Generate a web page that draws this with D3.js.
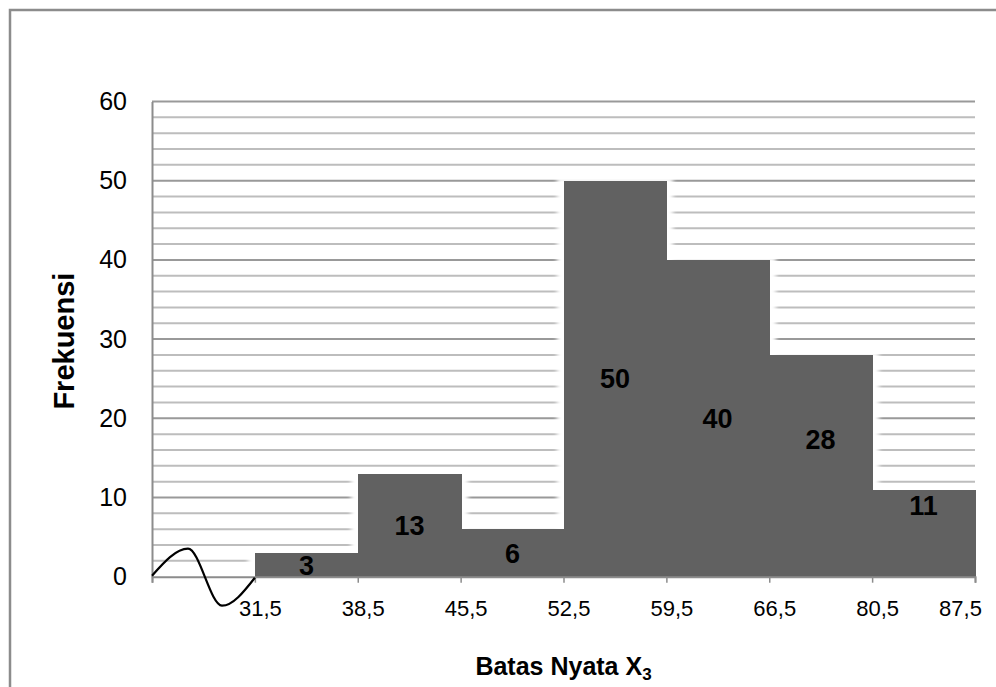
<!DOCTYPE html>
<html>
<head>
<meta charset="utf-8">
<script src="https://cdn.jsdelivr.net/npm/d3@7"></script>
<style>
  html, body { margin: 0; padding: 0; background: #fff; }
  svg { display: block; font-family: "Liberation Sans", Arial, sans-serif; }
</style>
</head>
<body>
<div id="chart"></div>
<script>
// ── Data ─────────────────────────────────────────────────────
var batasNyata = ["31,5", "38,5", "45,5", "52,5", "59,5", "66,5", "80,5", "87,5"];
var frekuensi = [3, 13, 6, 50, 40, 28, 11];
// height (in frequency units) where each value label sits
var labelLevel = [1.5, 6.5, 3, 25, 20, 17.3, 9];
var yTicks = [0, 10, 20, 30, 40, 50, 60];
var yTitle = "Frekuensi";
var xTitle = "Batas Nyata X";
var xTitleSub = "3";

// ── Layout ───────────────────────────────────────────────────
var W = 996, H = 687;
var plot = { left: 152, right: 975, top: 101.5, bottom: 576.7 };
var AXIS = "#8c8c8c";

var svg = d3.select("#chart").append("svg")
  .attr("width", W)
  .attr("height", H);

// outer frame (right and bottom edges fall outside the picture)
svg.append("rect")
  .attr("x", 10).attr("y", 10)
  .attr("width", W + 20).attr("height", H + 20)
  .attr("fill", "#fff")
  .attr("stroke", AXIS)
  .attr("stroke-width", 2.5);

// one empty slot before the first class (axis break), then one slot per class
var x = d3.scaleLinear()
  .domain([0, batasNyata.length])
  .range([plot.left, plot.right]);

var y = d3.scaleLinear()
  .domain([0, 60])
  .range([plot.bottom, plot.top]);

var defs = svg.append("defs");
defs.append("filter")
  .attr("id", "halo")
  .attr("x", "-20%").attr("y", "-20%")
  .attr("width", "140%").attr("height", "140%")
  .append("feGaussianBlur")
  .attr("stdDeviation", 2.2);

// ── Gridlines (every 2, darker every 10) ─────────────────────
var grid = svg.append("g").attr("class", "grid");
grid.selectAll("line")
  .data(d3.range(2, 61, 2))
  .join("line")
  .attr("x1", plot.left)
  .attr("x2", plot.right)
  .attr("y1", function (d) { return y(d); })
  .attr("y2", function (d) { return y(d); })
  .attr("stroke", function (d) { return d % 10 === 0 ? "#999" : "#bdbdbd"; })
  .attr("stroke-width", 2);

// ── Bars ─────────────────────────────────────────────────────
var bars = frekuensi.map(function (v, i) {
  return { value: v, x0: Math.round(x(i + 1)), x1: Math.round(x(i + 2)), level: labelLevel[i] };
});

// soft white glow round each bar, as in the original
svg.append("g")
  .selectAll("rect")
  .data(bars)
  .join("rect")
  .attr("x", function (d) { return d.x0 - 7; })
  .attr("y", function (d) { return y(d.value) - 3; })
  .attr("width", function (d) { return d.x1 - d.x0 + 14; })
  .attr("height", function (d) { return y(0) - y(d.value) + 2; })
  .attr("fill", "#fff")
  .attr("filter", "url(#halo)");

svg.append("g")
  .attr("shape-rendering", "crispEdges")
  .selectAll("rect")
  .data(bars)
  .join("rect")
  .attr("x", function (d) { return d.x0; })
  .attr("y", function (d) { return y(d.value); })
  .attr("width", function (d) { return d.x1 - d.x0 + 0.5; })
  .attr("height", function (d) { return y(0) - y(d.value); })
  .attr("fill", "#616161");

// value labels
svg.append("g")
  .selectAll("text")
  .data(bars)
  .join("text")
  .attr("x", function (d) { return (d.x0 + d.x1) / 2; })
  .attr("y", function (d) { return y(d.level); })
  .attr("dy", "0.36em")
  .attr("text-anchor", "middle")
  .attr("font-size", 27)
  .attr("font-weight", "bold")
  .attr("fill", "#000")
  .text(function (d) { return d.value; });

// ── Axes ─────────────────────────────────────────────────────
// y axis: labels only, no tick marks
var yAxis = svg.append("g")
  .attr("transform", "translate(" + plot.left + ",0)")
  .call(d3.axisLeft(y).tickValues(yTicks).tickSize(0).tickPadding(25));
yAxis.select(".domain")
  .attr("stroke", AXIS)
  .attr("stroke-width", 2);
yAxis.selectAll("text")
  .attr("font-family", "Liberation Sans, Arial, sans-serif")
  .attr("font-size", 25)
  .attr("fill", "#000");

// x axis: boundary ticks at every slot edge
var xAxis = svg.append("g")
  .attr("transform", "translate(0," + plot.bottom + ")")
  .call(d3.axisBottom(x).ticks(batasNyata.length).tickSizeOuter(0).tickSize(6)
    .tickFormat(function (d) { return d === 0 ? "" : batasNyata[d - 1]; }));
xAxis.select(".domain")
  .attr("stroke", AXIS)
  .attr("stroke-width", 2);
xAxis.selectAll(".tick line")
  .attr("stroke", AXIS)
  .attr("stroke-width", 1.5);
xAxis.selectAll(".tick text")
  .attr("font-family", "Liberation Sans, Arial, sans-serif")
  .attr("font-size", 22)
  .attr("fill", "#000")
  .attr("y", 24)
  .attr("dy", "0.71em")
  .attr("dx", function (d) { return d === batasNyata.length ? -15 : 5; });

// axis break squiggle in the empty first slot
var sx = d3.scaleLinear().domain([0, 1]).range([x(0), x(1)]);
var squiggle = [[0, -1], [0.35, -28], [0.68, 29], [1, 1]];
svg.append("path")
  .datum(squiggle)
  .attr("d", d3.line()
    .x(function (d) { return sx(d[0]); })
    .y(function (d) { return plot.bottom + d[1]; })
    .curve(d3.curveMonotoneX))
  .attr("fill", "none")
  .attr("stroke", "#000")
  .attr("stroke-width", 2.2);

// ── Titles ───────────────────────────────────────────────────
svg.append("text")
  .attr("transform", "translate(74," + ((plot.top + plot.bottom) / 2 + 2) + ") rotate(-90)")
  .attr("text-anchor", "middle")
  .attr("font-size", 29)
  .attr("font-weight", "bold")
  .text(yTitle);

var xt = svg.append("text")
  .attr("x", (plot.left + plot.right) / 2)
  .attr("y", 675)
  .attr("text-anchor", "middle")
  .attr("font-size", 25)
  .attr("font-weight", "bold");
xt.append("tspan").text(xTitle);
xt.append("tspan")
  .attr("font-size", 17)
  .attr("dy", 5)
  .text(xTitleSub);
</script>
</body>
</html>
